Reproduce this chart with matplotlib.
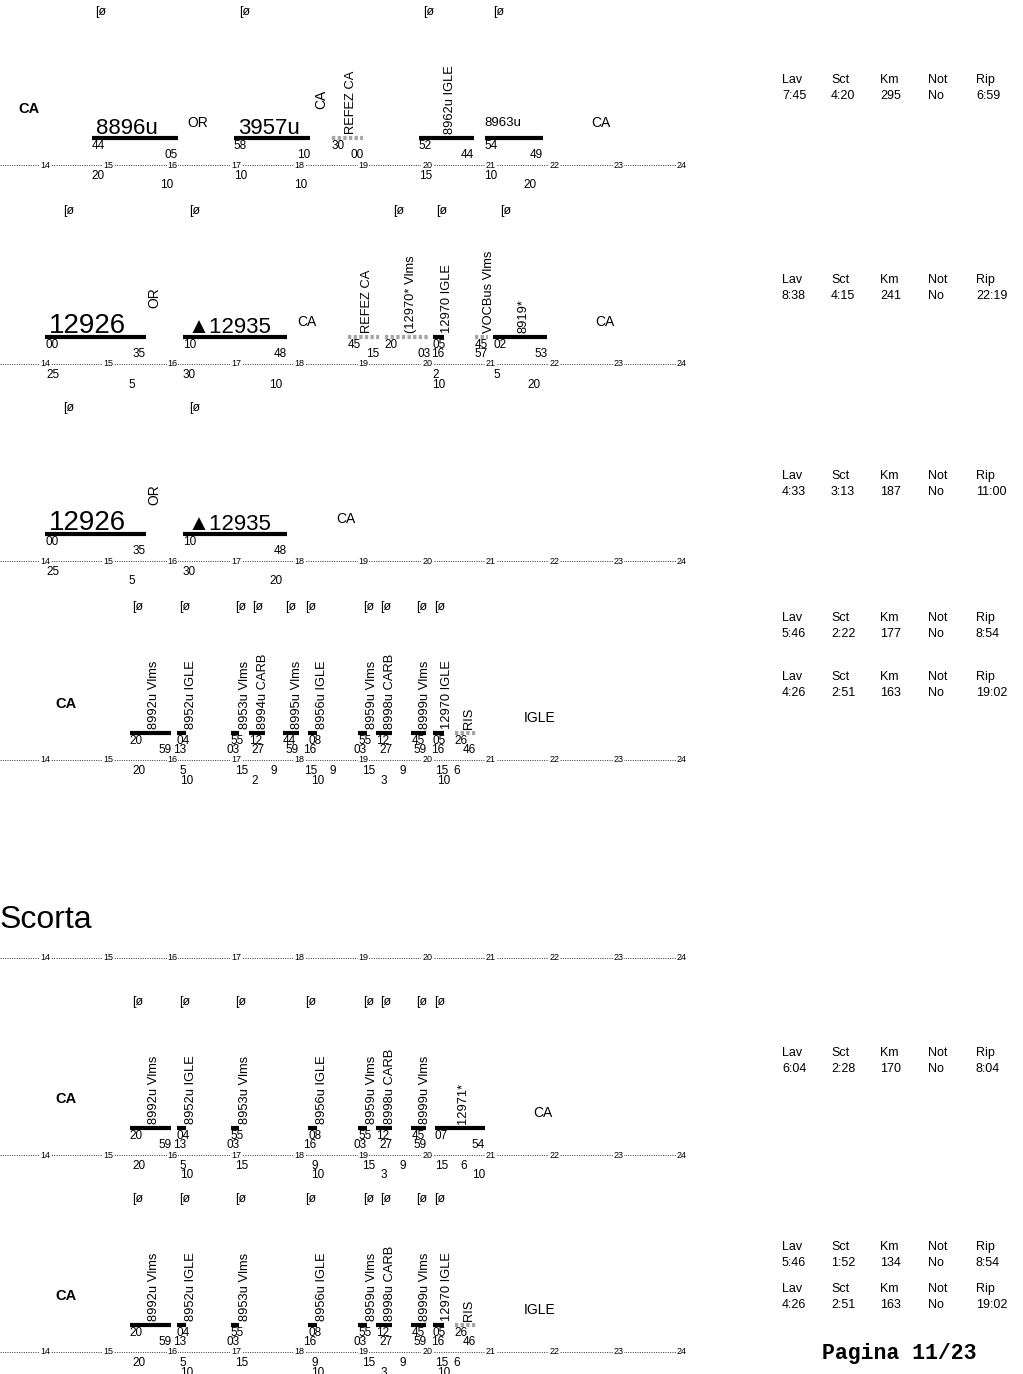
import matplotlib
matplotlib.use('Agg')
import matplotlib.pyplot as plt
from matplotlib import font_manager

# duty sheet: six turns on a 14-24 time line

HOURS = list(range(14, 25))
HEADS = ["Lav", "Sct", "Km", "Not", "Rip"]

# turn 1
b1_names = ["8896u", "3957u", "REFEZ CA", "8962u IGLE", "8963u"]
b1_start = ["14:44", "16:58", "18:30", "19:52", "20:54"]
b1_end = ["16:05", "18:10", "19:00", "20:44", "21:49"]
b1_kind = ["T", "T", "P", "T", "T"]
b1_below = [("14:44", "20", 0), ("15:48", "10", 1), ("16:58", "10", 0), ("17:55", "10", 1),
            ("19:52", "15", 0), ("20:54", "10", 0), ("21:31", "20", 1)]
b1_marks = ["14:52", "17:08", "20:01", "21:07"]
b1_notes = [("OR", "16:24", False), ("CA", "18:20", True), ("CA", "22:44", False)]
b1_info = [["7:45", "4:20", "295", "No", "6:59"]]

# turn 2
b2_names = ["12926", "▲12935", "REFEZ CA", "(12970* Vlms", "12970 IGLE", "VOCBus Vlms", "8919*"]
b2_start = ["14:00", "16:10", "18:45", "19:20", "20:05", "20:45", "21:02"]
b2_end = ["15:35", "17:48", "19:15", "20:03", "20:16", "20:57", "21:53"]
b2_kind = ["T", "T", "P", "P", "T", "P", "T"]
b2_below = [("14:01", "25", 0), ("15:19", "5", 1), ("16:10", "30", 0), ("17:31", "10", 1),
            ("20:05", "2", 0), ("20:05", "10", 1), ("21:02", "5", 0), ("21:34", "20", 1)]
b2_marks = ["14:22", "16:21", "19:33", "20:14", "21:14"]
b2_notes = [("OR", "15:43", True), ("CA", "18:07", False), ("CA", "22:47", False)]
b2_info = [["8:38", "4:15", "241", "No", "22:19"]]

# turn 3
b3_names = ["12926", "▲12935"]
b3_start = ["14:00", "16:10"]
b3_end = ["15:35", "17:48"]
b3_kind = ["T", "T"]
b3_below = [("14:01", "25", 0), ("15:19", "5", 1), ("16:10", "30", 0), ("17:31", "20", 1)]
b3_marks = ["14:22", "16:21"]
b3_notes = [("OR", "15:43", True), ("CA", "18:43", False)]
b3_info = [["4:33", "3:13", "187", "No", "11:00"]]

# turn 4
b4_names = ["8992u Vlms", "8952u IGLE", "8953u Vlms", "8994u CARB", "8995u Vlms", "8956u IGLE",
            "8959u Vlms", "8998u CARB", "8999u Vlms", "12970 IGLE", "RIS"]
b4_start = ["15:20", "16:04", "16:55", "17:12", "17:44", "18:08", "18:55", "19:12", "19:45", "20:05", "20:26"]
b4_end = ["15:59", "16:13", "17:03", "17:27", "17:59", "18:16", "19:03", "19:27", "19:59", "20:16", "20:46"]
b4_kind = ["T", "T", "T", "T", "T", "T", "T", "T", "T", "T", "P"]
b4_below = [("15:22", "20", 0), ("16:07", "5", 0), ("16:59", "15", 0), ("17:32", "9", 0),
            ("18:04", "15", 0), ("18:28", "9", 0), ("18:59", "15", 0), ("19:34", "9", 0),
            ("20:07", "15", 0), ("20:25", "6", 0),
            ("16:07", "10", 1), ("17:14", "2", 1), ("18:11", "10", 1), ("19:16", "3", 1), ("20:09", "10", 1)]
b4_marks = ["15:27", "16:12", "17:04", "17:20", "17:51", "18:10", "19:05", "19:21", "19:55", "20:12"]
b4_notes = [("IGLE", "21:46", False)]
b4_info = [["5:46", "2:22", "177", "No", "8:54"], ["4:26", "2:51", "163", "No", "19:02"]]

# scorta 1
b5_names = ["8992u Vlms", "8952u IGLE", "8953u Vlms", "8956u IGLE", "8959u Vlms", "8998u CARB",
            "8999u Vlms", "12971*"]
b5_start = ["15:20", "16:04", "16:55", "18:08", "18:55", "19:12", "19:45", "20:07"]
b5_end = ["15:59", "16:13", "17:03", "18:16", "19:03", "19:27", "19:59", "20:54"]
b5_kind = ["T", "T", "T", "T", "T", "T", "T", "T"]
b5_below = [("15:22", "20", 0), ("16:07", "5", 0), ("16:59", "15", 0), ("18:11", "9", 0),
            ("18:59", "15", 0), ("19:34", "9", 0), ("20:07", "15", 0), ("20:31", "6", 0),
            ("16:07", "10", 1), ("18:11", "10", 1), ("19:16", "3", 1), ("20:42", "10", 1)]
b5_marks = ["15:27", "16:12", "17:04", "18:10", "19:05", "19:21", "19:55", "20:12"]
b5_notes = [("CA", "21:49", False)]
b5_info = [["6:04", "2:28", "170", "No", "8:04"]]

# scorta 2
b6_names = ["8992u Vlms", "8952u IGLE", "8953u Vlms", "8956u IGLE", "8959u Vlms", "8998u CARB",
            "8999u Vlms", "12970 IGLE", "RIS"]
b6_start = ["15:20", "16:04", "16:55", "18:08", "18:55", "19:12", "19:45", "20:05", "20:26"]
b6_end = ["15:59", "16:13", "17:03", "18:16", "19:03", "19:27", "19:59", "20:16", "20:46"]
b6_kind = ["T", "T", "T", "T", "T", "T", "T", "T", "P"]
b6_below = [("15:22", "20", 0), ("16:07", "5", 0), ("16:59", "15", 0), ("18:11", "9", 0),
            ("18:59", "15", 0), ("19:34", "9", 0), ("20:07", "15", 0), ("20:25", "6", 0),
            ("16:07", "10", 1), ("18:11", "10", 1), ("19:16", "3", 1), ("20:09", "10", 1)]
b6_marks = ["15:27", "16:12", "17:04", "18:10", "19:05", "19:21", "19:55", "20:12"]
b6_notes = [("IGLE", "21:46", False)]
b6_info = [["5:46", "1:52", "134", "No", "8:54"], ["4:26", "2:51", "163", "No", "19:02"]]


names = {f.name for f in font_manager.fontManager.ttflist}
NARROW = 'Liberation Sans Narrow' if 'Liberation Sans Narrow' in names else 'Liberation Sans'
SANS = 'Liberation Sans'
NF = [NARROW, 'DejaVu Sans']

W, H = 1023, 1374
PX_H = 63.7                   # pixels per hour
X0 = 14 - 45 / PX_H
X1 = X0 + W / PX_H

BIG = {"8896u": 16, "3957u": 16, "12926": 20, "▲12935": 16}
FLAT = {"8963u": 9.5}
NUM = 8.5                     # minute digits


def h(s):
    hh, mm = s.split(':')
    return int(hh) + int(mm) / 60


fig = plt.figure(figsize=(W / 100, H / 100), dpi=100)
ax = fig.add_axes([0, 0, 1, 1])
ax.set_xlim(X0, X1)
ax.set_ylim(H, 0)
ax.axis('off')


def ftext(px, py, s, **kw):
    fig.text(px / W, 1 - py / H, s, **kw)


def time_axis(axis_y):
    ax.plot([X0, 24], [axis_y, axis_y], color='#333333', lw=0.7, ls=(0, (1, 1.4)))
    for hr in HOURS:
        ax.text(hr, axis_y, str(hr), ha='center', va='center', fontsize=6.5, family=SANS,
                bbox=dict(fc='white', ec='none', pad=0.5))


def info(rows, ys):
    xs = [782, 831, 880, 928, 976]
    for row, y in zip(rows, ys):
        for x, hd, v in zip(xs, HEADS, row):
            ftext(x, y, hd, ha='left', va='center', fontsize=9, family=NARROW)
            ftext(x, y + 16, v, ha='left', va='center', fontsize=9, family=NARROW)


def block(y, nm, st, en, kd, below, marks, notes, depot=None, depot_x=66):
    axis_y = y + 27
    time_axis(axis_y)
    for m in marks:
        ax.text(h(m), y - 126, "[ø", ha='center', va='center', fontsize=9, family=SANS)
    if depot:
        ftext(depot_x, y - 29, depot, ha='center', va='center', fontsize=10.5,
              family=NARROW, weight='bold')
    for n, s, e, k in zip(nm, st, en, kd):
        t0, t1 = h(s), h(e)
        if k == "T":
            ax.plot([t0, t1], [y, y], color='black', lw=3, solid_capstyle='butt')
        else:
            ax.plot([t0, t1], [y, y], color='#a6a6a6', lw=3, ls=(0, (0.8, 0.55)),
                    dash_capstyle='butt')
        ax.text(t0, y + 8, s[-2:], ha='left', va='center', fontsize=NUM, family=NARROW)
        ax.text(t1, y + 17, e[-2:], ha='right', va='center', fontsize=NUM, family=NARROW)
        if n in BIG:
            ax.annotate(n, (t0, y - 4), xytext=(3, 0), textcoords='offset points',
                        ha='left', va='baseline', fontsize=BIG[n], family=NF)
        elif n in FLAT:
            ax.text(t0, y - 15, n, ha='left', va='center', fontsize=FLAT[n], family=NARROW)
        else:
            xm = max((t0 + t1) / 2, t0 + 0.16) + 0.06
            ax.text(xm, y - 4, n, rotation=90, ha='center', va='bottom', fontsize=9.3,
                    family=SANS)
    for t, s, lev in below:
        ax.text(h(t), axis_y + 11 + 9.5 * lev, s, ha='left', va='center', fontsize=NUM,
                family=NARROW)
    for s, t, rot in notes:
        if rot:
            ax.text(h(t), y - 29, s, rotation=90, ha='center', va='bottom', fontsize=10,
                    family=NARROW)
        else:
            ax.text(h(t), y - 15, s, ha='center', va='center', fontsize=10, family=NARROW)


block(138, b1_names, b1_start, b1_end, b1_kind, b1_below, b1_marks, b1_notes, "CA", 29)
info(b1_info, [80])
block(337, b2_names, b2_start, b2_end, b2_kind, b2_below, b2_marks, b2_notes)
info(b2_info, [280])
block(534, b3_names, b3_start, b3_end, b3_kind, b3_below, b3_marks, b3_notes)
info(b3_info, [476])
block(733, b4_names, b4_start, b4_end, b4_kind, b4_below, b4_marks, b4_notes, "CA")
info(b4_info, [618, 677])

ftext(0, 920, "Scorta", ha='left', va='center', fontsize=23, family=NARROW)
time_axis(958)

block(1128, b5_names, b5_start, b5_end, b5_kind, b5_below, b5_marks, b5_notes, "CA")
info(b5_info, [1053])
block(1325, b6_names, b6_start, b6_end, b6_kind, b6_below, b6_marks, b6_notes, "CA")
info(b6_info, [1247, 1289])

ftext(822, 1354, "Pagina 11/23", ha='left', va='center', fontsize=15.5,
      family='Liberation Mono', weight='bold')

fig.savefig('out.png', dpi=100)
